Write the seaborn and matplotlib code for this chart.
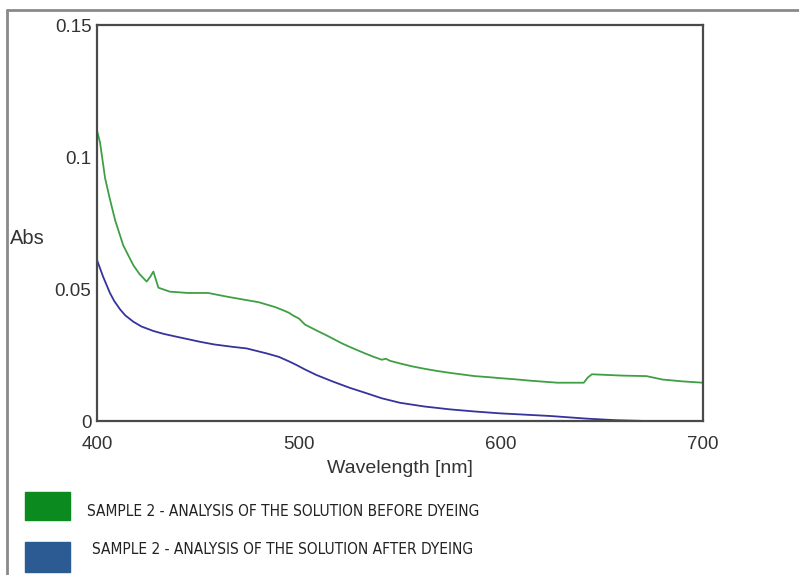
import numpy as np
import pandas as pd
import matplotlib
matplotlib.use("Agg")
import matplotlib.pyplot as plt
import seaborn as sns
from matplotlib.patches import Rectangle
from matplotlib.ticker import MultipleLocator

# --- data ---
green_nm = [400, 401.5, 404, 406.4, 409, 413, 418, 421, 424.6, 426.5,
            427.9, 430.4, 436, 445, 455, 465, 474, 480, 488, 492, 495, 497, 500,
            503, 510, 514, 521, 525, 529, 533, 537, 541, 543, 545, 550, 556, 562,
            568, 575, 581, 587, 594, 600, 607, 614, 621, 628, 635, 641, 643, 645,
            651, 660, 672, 680, 690, 700]
green_abs = [0.110, 0.1055, 0.0920, 0.0840, 0.0760, 0.0665, 0.0590, 0.0557, 0.0528,
             0.0548, 0.0566, 0.0505, 0.0490, 0.0485, 0.0485, 0.0470,
             0.0458, 0.0450, 0.0432, 0.0420, 0.0410, 0.0400, 0.0388, 0.0365, 0.0338,
             0.0323, 0.0295, 0.0281, 0.0268, 0.0255, 0.0243, 0.0232, 0.0236, 0.0228,
             0.0218, 0.0207, 0.0198, 0.0190, 0.0182, 0.0176, 0.0170, 0.0166, 0.0162,
             0.0158, 0.0153, 0.0149, 0.0145, 0.0145, 0.0145, 0.0165, 0.0177, 0.0175,
             0.0172, 0.0170, 0.0157, 0.0150, 0.0145]

blue_nm = [400, 403, 406.4, 408.5, 411.4, 414, 418, 422, 427.9, 433, 439.5, 445, 451,
           458, 467, 474, 484, 490, 495, 498.8, 503, 508.7, 516.9, 525, 533.5, 541,
           550, 562, 574.8, 587, 599.5, 624.3, 642.4, 657, 672]
blue_abs = [0.061, 0.0547, 0.0485, 0.0455, 0.0423, 0.0400, 0.0376, 0.0358, 0.0341,
            0.0330, 0.0319, 0.0310, 0.0300, 0.0290, 0.0281, 0.0275, 0.0256, 0.0243,
            0.0226, 0.0212, 0.0195, 0.0174, 0.0149, 0.0126, 0.0105, 0.0086, 0.0069,
            0.0055, 0.0044, 0.0036, 0.0029, 0.0019, 0.0009, 0.0003, 0.0]

labels = ["SAMPLE 2 - ANALYSIS OF THE SOLUTION BEFORE DYEING",
          "SAMPLE 2 - ANALYSIS OF THE SOLUTION AFTER DYEING"]

df = pd.concat([
    pd.DataFrame({"nm": green_nm, "abs": green_abs, "sample": "before"}),
    pd.DataFrame({"nm": blue_nm, "abs": blue_abs, "sample": "after"}),
])

sns.set_style("white")
plt.rcParams['font.family'] = ['Liberation Sans', 'DejaVu Sans']

W, H = 799, 575
fig = plt.figure(figsize=(W / 100, H / 100), dpi=100)
ax = fig.add_axes([97 / W, 1 - 421 / H, (703 - 97) / W, (421 - 25) / H])

sns.lineplot(data=df, x="nm", y="abs", hue="sample", sort=False,
             palette={"before": "#3f9f44", "after": "#34349c"},
             linewidth=1.3, legend=False, ax=ax)

ax.set_xlim(400, 700)
ax.set_ylim(0, 0.15)
ax.xaxis.set_major_locator(MultipleLocator(100))
ax.xaxis.set_minor_locator(MultipleLocator(50))
ax.yaxis.set_minor_locator(MultipleLocator(0.025))
ax.set_yticks([0, 0.05, 0.1, 0.15])
ax.set_yticklabels(["0", "0.05", "0.1", "0.15"])
ax.tick_params(which="both", direction="in", color="#333333", labelsize=13.5,
               labelcolor="#333333")
ax.tick_params(which="major", length=9, width=1.2)
ax.tick_params(which="minor", length=6, width=1.2)
ax.tick_params(axis="x", pad=11)
ax.tick_params(axis="y", pad=4)
for s in ax.spines.values():
    s.set_color("#4a4a4a")
    s.set_linewidth(1.6)

ax.set_xlabel("Wavelength [nm]", fontsize=14, color="#333333", labelpad=5)
ax.set_ylabel("")
fig.text(10 / W, 1 - 238 / H, "Abs", fontsize=14.5, color="#333333",
         ha="left", va="center")

# outer frame of the original figure
fig.add_artist(plt.Line2D([7 / W, 7 / W], [0, 1 - 10 / H], color="#8a8a8a", lw=2))
fig.add_artist(plt.Line2D([7 / W, 1], [1 - 10 / H, 1 - 10 / H], color="#8a8a8a", lw=2))

# legend swatches
fig.add_artist(Rectangle((25 / W, 1 - 520 / H), 45 / W, 28 / H,
                         transform=fig.transFigure, color="#0b8a20"))
fig.add_artist(Rectangle((25 / W, 1 - 572 / H), 45 / W, 30 / H,
                         transform=fig.transFigure, color="#2b5b92"))
fig.text(87 / W, 1 - 511 / H, labels[0], fontsize=11.1, color="#222222",
         ha="left", va="center", family="DejaVu Sans", fontstretch="condensed")
fig.text(92 / W, 1 - 549 / H, labels[1], fontsize=11.1, color="#222222",
         ha="left", va="center", family="DejaVu Sans", fontstretch="condensed")

fig.savefig("out.png", dpi=100)
